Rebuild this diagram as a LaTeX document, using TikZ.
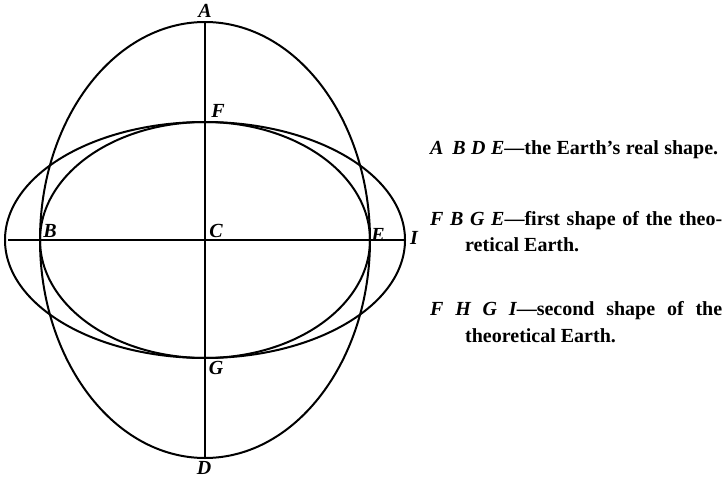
\documentclass[tikz,border=0pt]{standalone}
\usepackage{fontspec}
\setmainfont{Liberation Serif}
\begin{document}
\begin{tikzpicture}[x=1pt,y=-1pt,
  curve/.style={line width=2pt},
  axis/.style={line width=1.8pt},
  lbl/.style={inner sep=0pt, font=\fontsize{20}{20}\selectfont\bfseries\itshape},
  txt/.style={inner sep=0pt, anchor=base west, font=\fontsize{20}{22}\selectfont\bfseries}]
\useasboundingbox (0,0) rectangle (725,479);
\coordinate (C) at (205,240);
% ellipses
\draw[curve] (C) ellipse [x radius=165pt, y radius=218pt];
\draw[curve] (C) ellipse [x radius=165pt, y radius=118pt];
\draw[curve] (C) ellipse [x radius=200pt, y radius=118pt];
% axes
\coordinate (Atop) at (205,22);
\coordinate (Dbot) at (205,458);
\coordinate (Hleft) at (8,240);
\coordinate (Iright) at (406,240);
\draw[axis] (Atop) -- (Dbot);
\draw[axis] (Hleft) -- (Iright);
% letters
\node[lbl] (lA) at (205,11) {A};
\node[lbl] (lF) at (218,111) {F};
\node[lbl] (lC) at (216,231) {C};
\node[lbl] (lB) at (50,231) {B};
\node[lbl] (lE) at (378,235) {E};
\node[lbl] (lI) at (414,238) {I};
\node[lbl] (lG) at (216,368) {G};
\node[lbl] (lD) at (204,467.5) {D};
% legend
\node[txt] (t1) at (430,154) {\makebox[288pt][s]{\itshape A\, B D E\upshape—the Earth’s real shape.}};
\node[txt] (t2) at (430,225) {\makebox[292pt][s]{\itshape F B G E\upshape—first shape of the theo-}};
\node[txt] (t3) at (465,251) {retical Earth.};
\node[txt] (t4) at (430,315) {\makebox[292pt][s]{\itshape F H G I\upshape—second shape of the}};
\node[txt] (t5) at (465,342) {theoretical Earth.};
\end{tikzpicture}
\end{document}
